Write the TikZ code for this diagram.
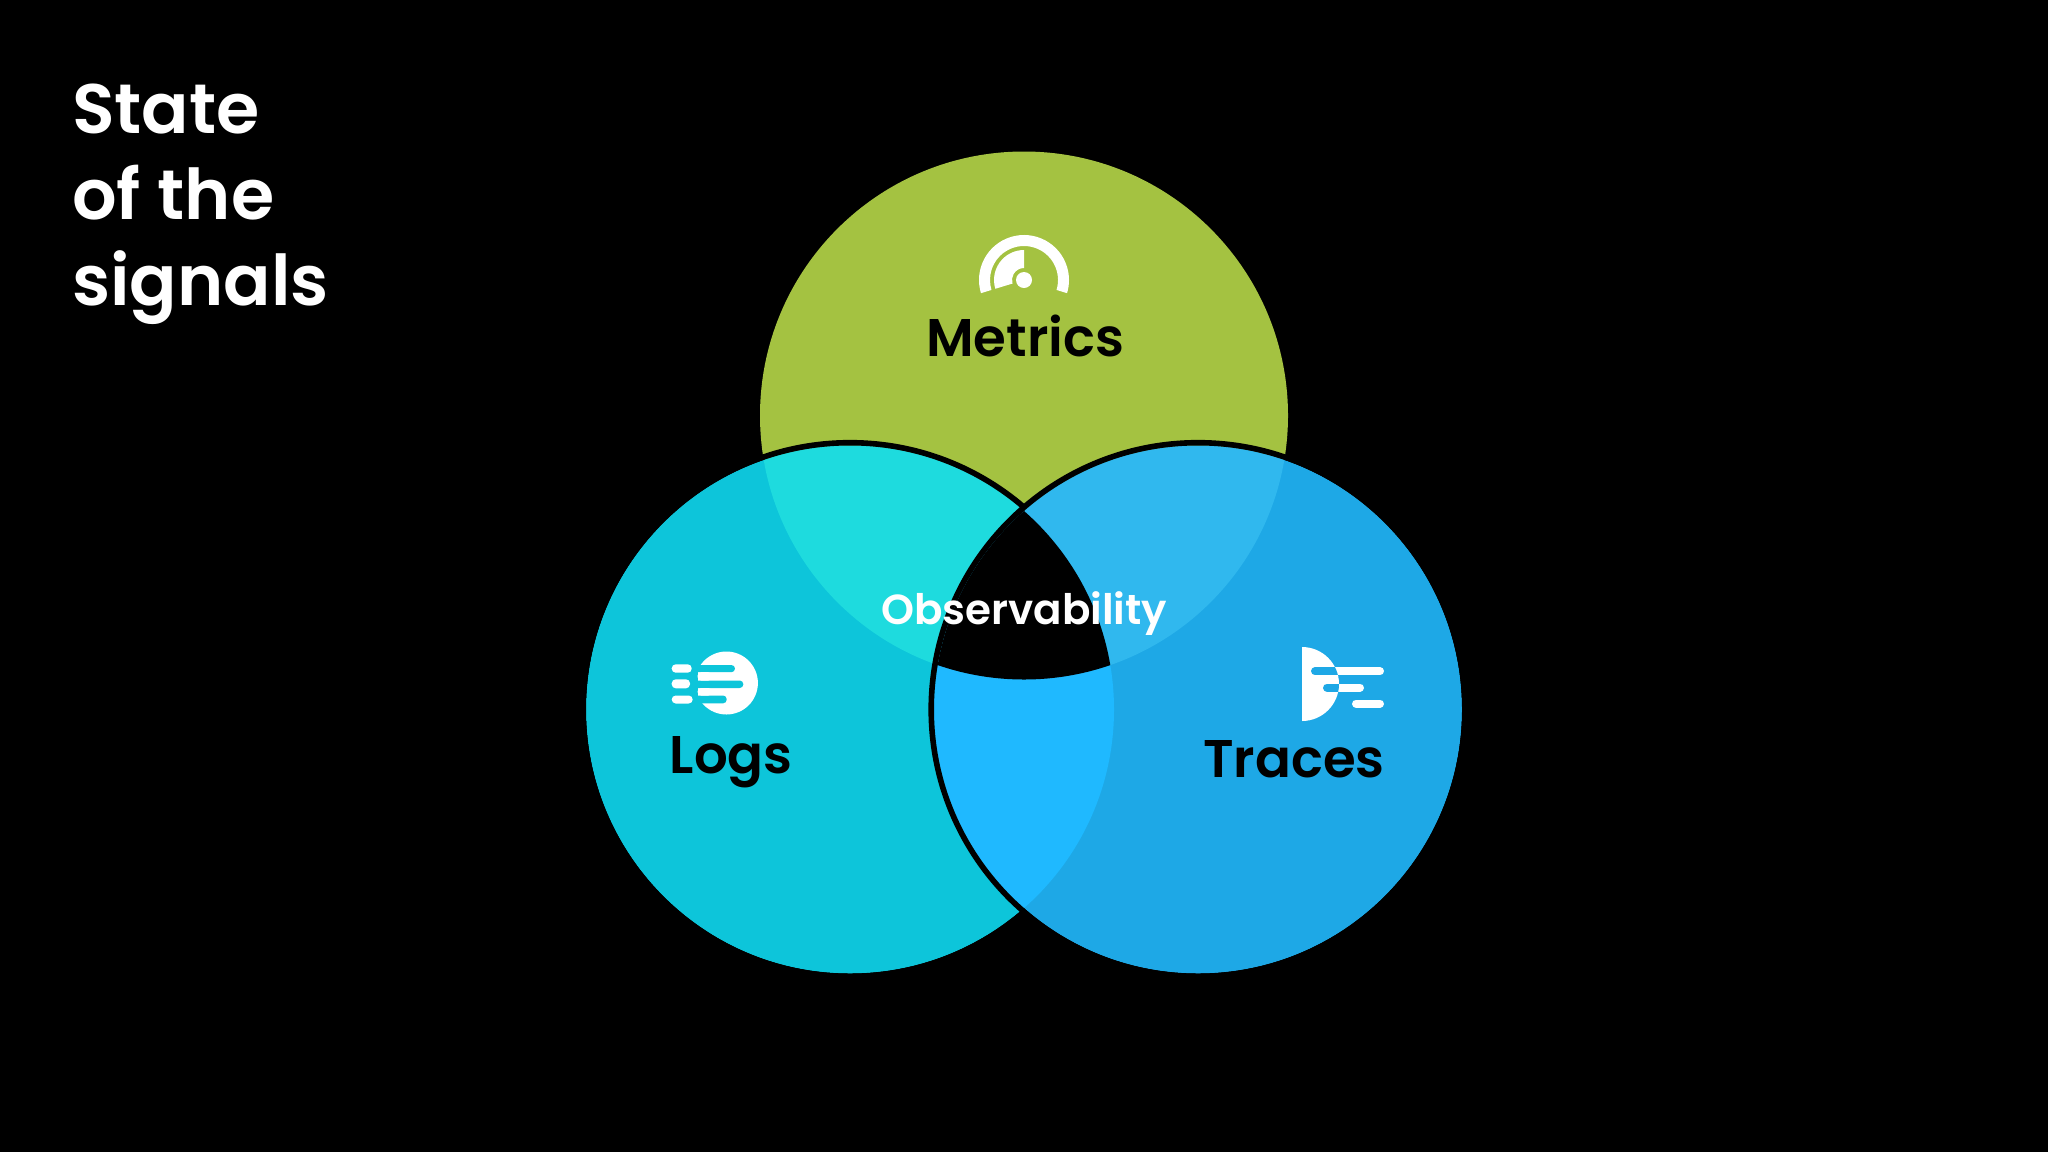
\documentclass[tikz,border=0pt]{standalone}
\usepackage{fontspec}
\newfontfamily\psemi{Poppins SemiBold}
\definecolor{cgreen}{HTML}{A4C241}
\definecolor{ccyan}{HTML}{0DC5DA}
\definecolor{cblue}{HTML}{1EA8E6}
\definecolor{cgc}{HTML}{1EDBDE}
\definecolor{cgb}{HTML}{30B8EE}
\definecolor{ccb}{HTML}{1FB9FF}
\tikzset{
 lab/.style={inner sep=0pt,anchor=base west,text=black,font=\psemi\fontsize{53}{53}\selectfont},
 ttl/.style={inner sep=0pt,anchor=base west,text=white,font=\psemi\fontsize{70}{70}\selectfont},
 sig/.style={line width=5.6pt,draw=black},
 icn/.style={line width=8pt,line cap=round}
}
\newcommand{\cM}{(1024,415.5) circle (264)}
\newcommand{\cL}{(850,709.5) circle (264)}
\newcommand{\cT}{(1198,709.5) circle (264)}
\begin{document}
\begin{tikzpicture}[x=1pt,y=-1pt]
\useasboundingbox (0,0) rectangle (2048,1152);
\fill[black] (0,0) rectangle (2048,1152);
\fill[cgreen] \cM;
\fill[ccyan] \cL;
\fill[cblue] \cT;
\begin{scope}\clip \cM; \fill[cgc] \cL; \fill[cgb] \cT; \end{scope}
\begin{scope}\clip \cL; \fill[ccb] \cT; \end{scope}
\begin{scope}\clip \cM; \clip \cL; \fill[black] \cT; \end{scope}
\draw[sig] (1198,709.5) circle (266.8);
\begin{scope}\clip (0,0) rectangle (1024,1152); \draw[sig] (850,709.5) circle (266.8); \end{scope}
% gauge
\begin{scope}[shift={(1024,280)}]
\fill[white] (-197:45) arc[start angle=-197,end angle=17,radius=45] -- (17:34) arc[start angle=17,end angle=-197,radius=34] -- cycle;
\fill[white] (-197:30) arc[start angle=-197,end angle=-90,radius=30] -- (-90:12) arc[start angle=-90,end angle=-197,radius=12] -- cycle;
\fill[white] (0,0) circle (8);
\end{scope}
% logs icon
\fill[white] (726.4,683) circle (31.5);
\fill[ccyan,rounded corners=3.6pt] (690,665) rectangle (735,672.2);
\fill[ccyan,rounded corners=3.6pt] (690,680.5) rectangle (743.3,688);
\fill[ccyan,rounded corners=3.6pt] (690,695.5) rectangle (726.7,703.3);
\fill[ccyan] (690,660) rectangle (698,710);
\fill[white,rounded corners=3.6pt] (697.5,672.2) rectangle (712,680.5);
\fill[white,rounded corners=3.6pt] (697.5,688) rectangle (712,695.5);
\fill[white,rounded corners=4pt] (671.7,664.3) rectangle (691.7,672.7);
\fill[white,rounded corners=4pt] (671.7,679.3) rectangle (690,688.3);
\fill[white,rounded corners=4pt] (671.7,695.5) rectangle (692.7,703.5);
% traces icon
\draw[icn,white] (1315,671.3) -- (1380,671.3);
\draw[icn,white] (1327,687.5) -- (1360,687.5);
\draw[icn,white] (1356,703.5) -- (1380,703.5);
\begin{scope}
\clip (1302,600) rectangle (1420,760);
\fill[white] (1302,684) circle (37);
\clip (1302,684) circle (37);
\draw[icn,cblue] (1315,671.3) -- (1380,671.3);
\draw[icn,cblue] (1327,687.5) -- (1360,687.5);
\end{scope}
\node[lab] (nm) at (926,356) {Metrics};
\node[lab] (nl) at (669.5,773) {Logs};
\node[lab] (nt) at (1203,777) {Traces};
\node[inner sep=0pt,anchor=base west,text=white,font=\psemi\fontsize{42}{42}\selectfont] (no) at (881,624) {Observability};
\node[ttl] (t1) at (72,133) {State};
\node[ttl] (t2) at (72,219) {of the};
\node[ttl] (t3) at (72,305) {signals};
\end{tikzpicture}
\end{document}
